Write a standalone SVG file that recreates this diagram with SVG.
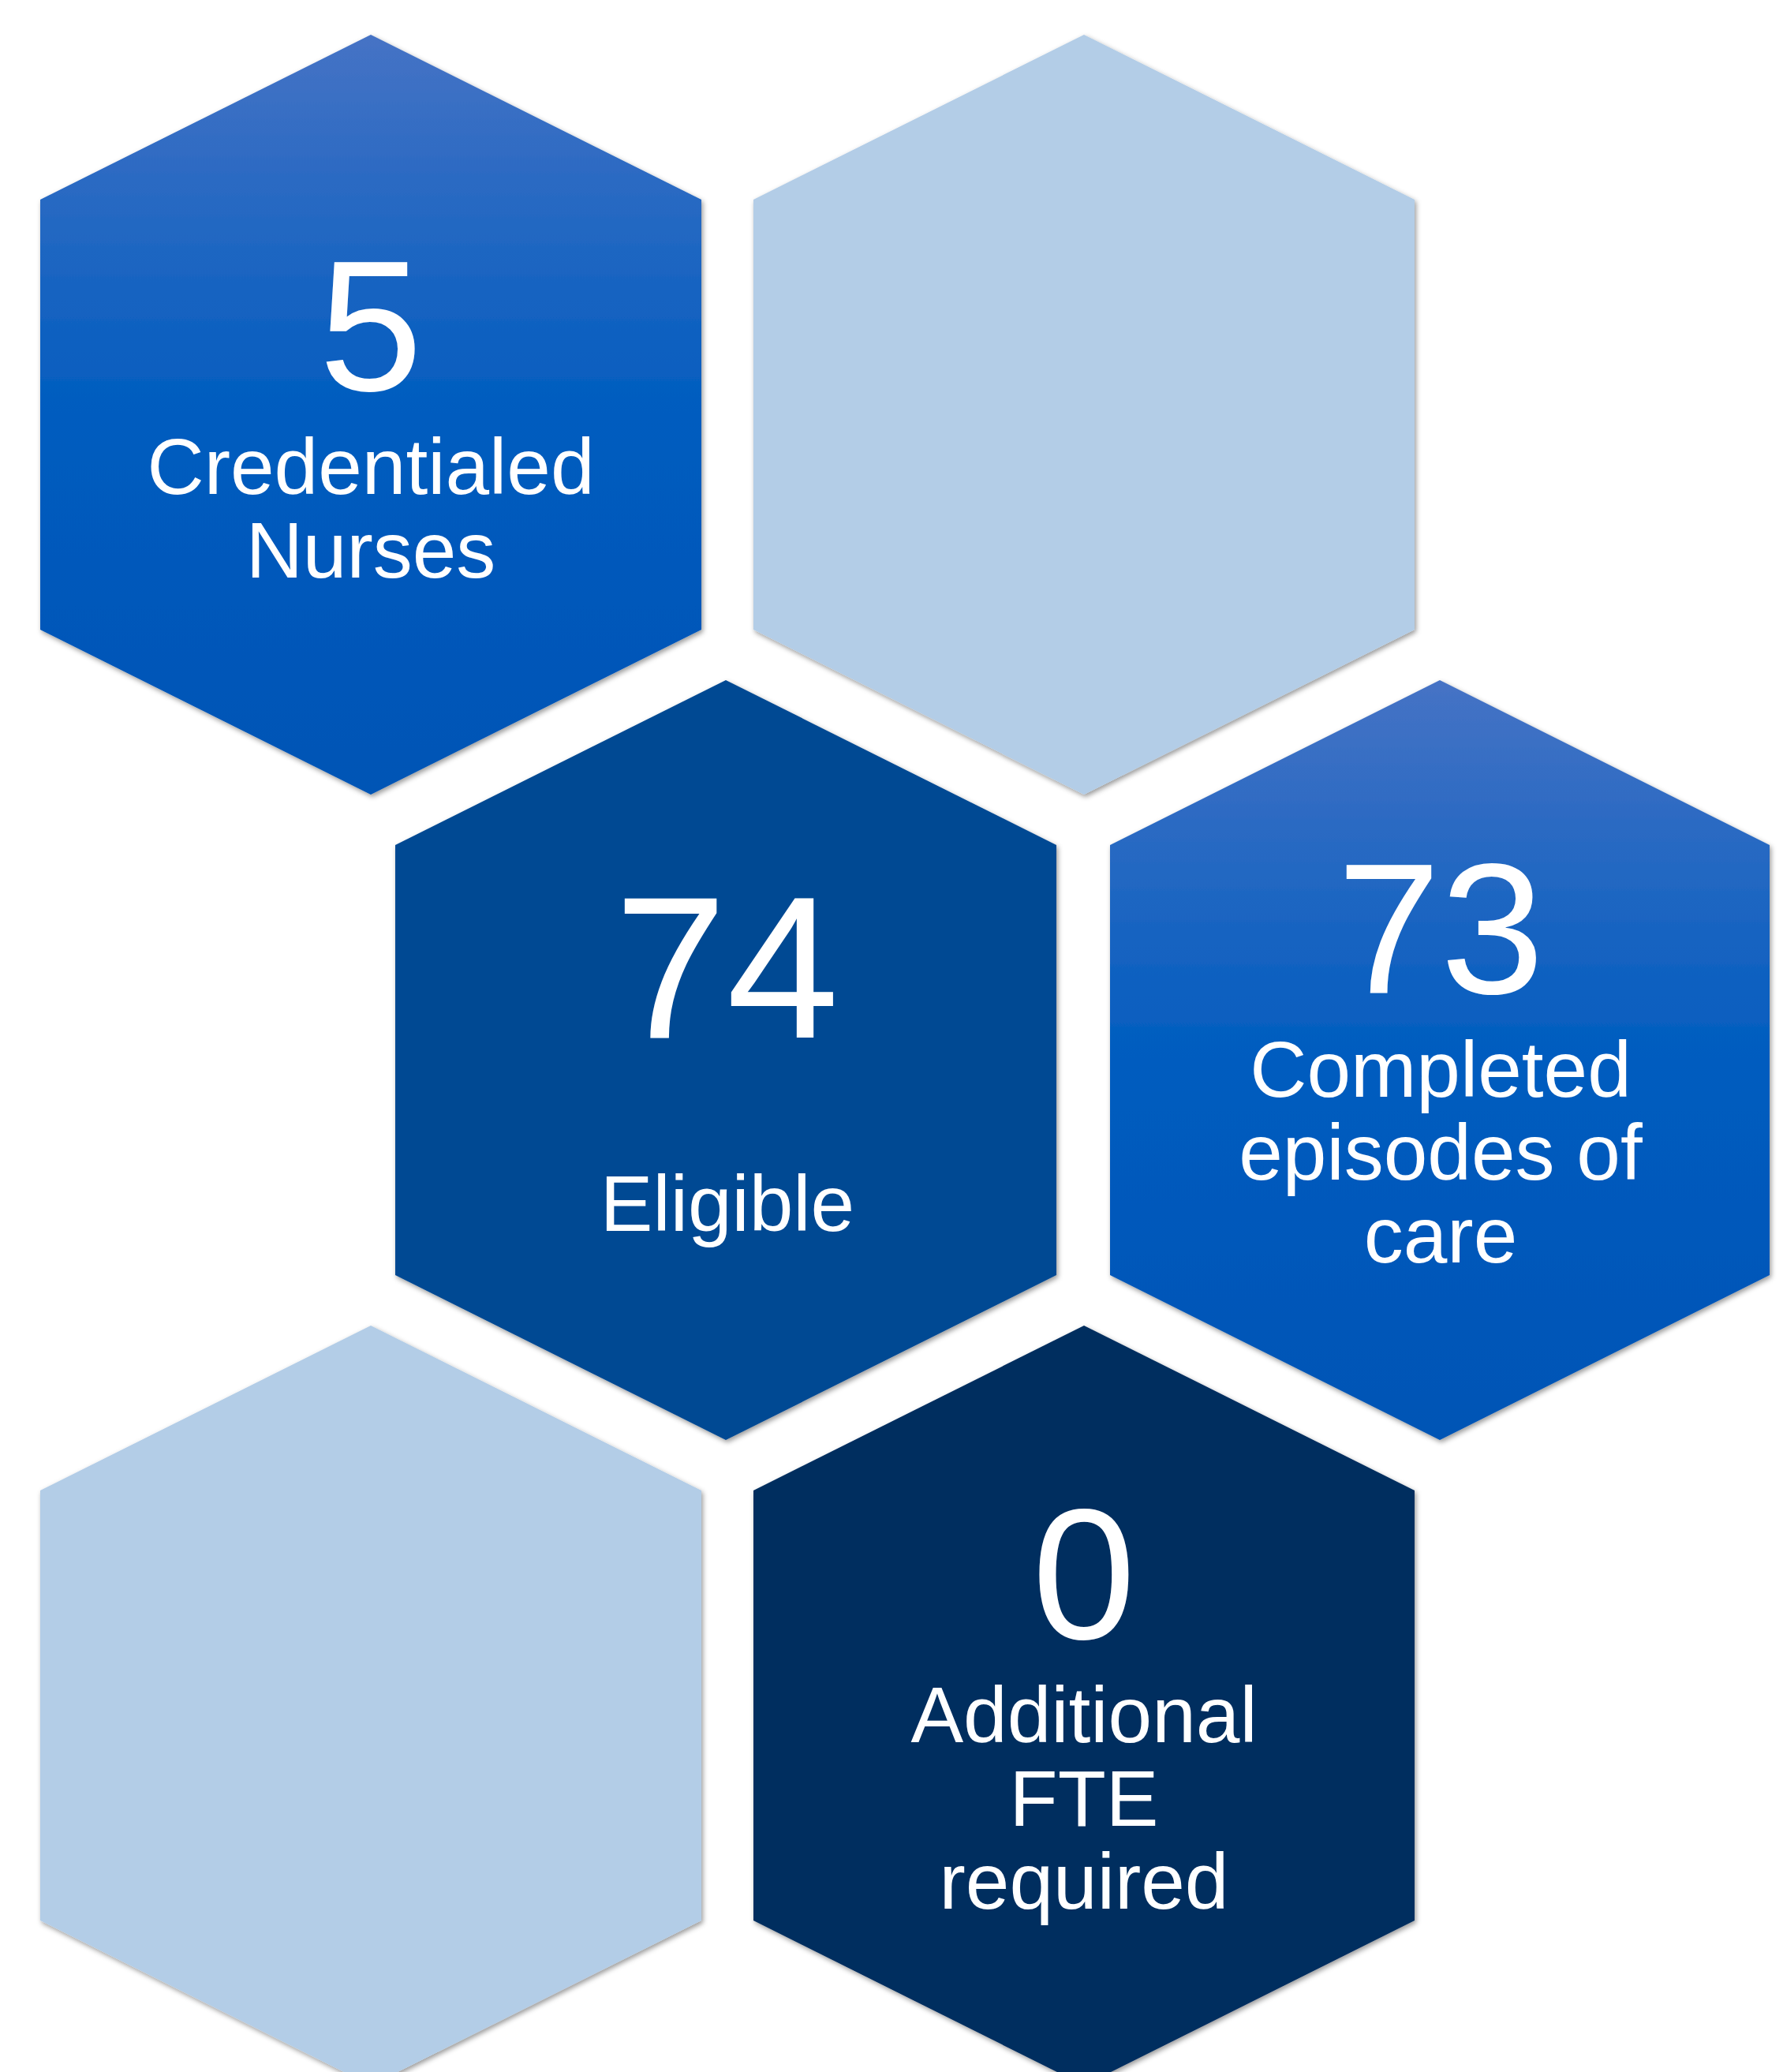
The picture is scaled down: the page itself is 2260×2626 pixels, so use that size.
<svg xmlns="http://www.w3.org/2000/svg" width="2260" height="2626" viewBox="0 0 2260 2626">
  <style>
    .num { font-family: "Liberation Sans", Arial, sans-serif; fill: #FFFFFF; text-anchor: middle; font-size: 236px; }
    .lbl { font-family: "Liberation Sans", Arial, sans-serif; fill: #FFFFFF; text-anchor: middle; font-size: 100px; }
    .grad { fill: url(#blueGrad); filter: url(#shadow); }
    .light { fill: #B3CDE7; filter: url(#shadow); }
    .mid { fill: #004A93; filter: url(#shadow); }
    .dark { fill: #002D5E; filter: url(#shadow); }
  </style>
  <defs>
    <linearGradient id="blueGrad" x1="0" y1="0" x2="0" y2="1">
      <stop offset="0" stop-color="#4673C5"/>
      <stop offset="0.5" stop-color="#005CBF"/>
      <stop offset="1" stop-color="#0054B5"/>
    </linearGradient>
    <filter id="shadow" x="-5%" y="-5%" width="110%" height="110%">
      <feDropShadow dx="2" dy="3" stdDeviation="3" flood-color="#000000" flood-opacity="0.4"/>
    </filter>
  </defs>
  <rect width="2260" height="2626" fill="#FFFFFF"/>
  <g id="connectors"/>
  <g id="hex-credentialed">
    <polygon class="grad" points="470,44 889,253 889,798 470,1007 51,798 51,253"/>
    <text class="num" x="470" y="495">5</text>
    <text class="lbl" x="470" y="626">Credentialed</text>
    <text class="lbl" x="470" y="732">Nurses</text>
  </g>
  <g id="hex-empty-top">
    <polygon class="light" points="1374,44 1793,253 1793,798 1374,1007 955,798 955,253"/>
  </g>
  <g id="hex-eligible">
    <polygon class="mid" points="920,862 1339,1071 1339,1616 920,1825 501,1616 501,1071"/>
    <text class="num" x="921" y="1315" style="font-size:256px">74</text>
    <text class="lbl" x="922" y="1560">Eligible</text>
  </g>
  <g id="hex-completed">
    <polygon class="grad" points="1825,862 2243,1071 2243,1616 1825,1825 1407,1616 1407,1071"/>
    <text class="num" x="1826" y="1259">73</text>
    <text class="lbl" x="1826" y="1390">Completed</text>
    <text class="lbl" x="1826" y="1495">episodes of</text>
    <text class="lbl" x="1826" y="1600">care</text>
  </g>
  <g id="hex-empty-bottom">
    <polygon class="light" points="470,1680 889,1889 889,2434 470,2643 51,2434 51,1889"/>
  </g>
  <g id="hex-fte">
    <polygon class="dark" points="1374,1680 1793,1889 1793,2434 1374,2643 955,2434 955,1889"/>
    <text class="num" x="1374" y="2077">0</text>
    <text class="lbl" x="1374" y="2208">Additional</text>
    <text class="lbl" x="1374" y="2314">FTE</text>
    <text class="lbl" x="1374" y="2419">required</text>
  </g>
</svg>
